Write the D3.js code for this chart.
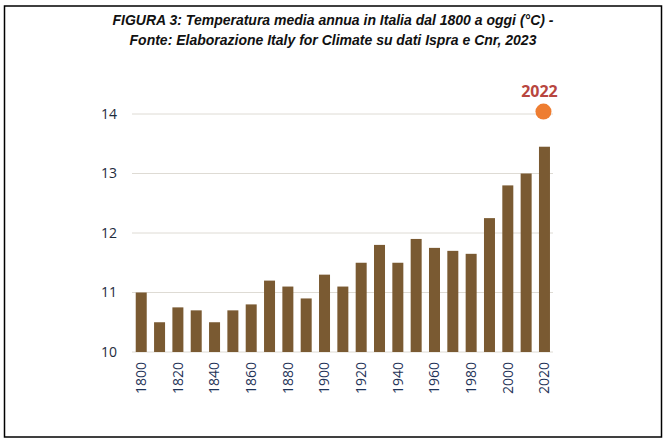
<!DOCTYPE html>
<html>
<head>
<meta charset="utf-8">
<script src="https://cdn.jsdelivr.net/npm/d3@7"></script>
<style>
  body { margin: 0; background: #fff; }
  svg { display: block; }
</style>
</head>
<body>
<div id="chart"></div>
<script>
// data
const years = [1800, 1810, 1820, 1830, 1840, 1850, 1860, 1870, 1880, 1890, 1900, 1910,
  1920, 1930, 1940, 1950, 1960, 1970, 1980, 1990, 2000, 2010, 2020];
const temps = [11.0, 10.5, 10.75, 10.7, 10.5, 10.7, 10.8, 11.2, 11.1, 10.9, 11.3, 11.1,
  11.5, 11.8, 11.5, 11.9, 11.75, 11.7, 11.65, 12.25, 12.8, 13.0, 13.45];
const yTicks = [10, 11, 12, 13, 14];
const highlightLabel = "2022";
const highlightValue = 14.04;
const titleLines = [
  "FIGURA 3: Temperatura media annua in Italia dal 1800 a oggi (°C) -",
  "Fonte: Elaborazione Italy for Climate su dati Ispra e Cnr, 2023"
];

const width = 669;
const height = 443;
const margin = { top: 114, right: 116, bottom: 91, left: 132 };

const svg = d3.select("#chart")
  .append("svg")
  .attr("width", width)
  .attr("height", height);

// outer frame
svg.append("rect")
  .attr("x", 4.5)
  .attr("y", 6)
  .attr("width", 657)
  .attr("height", 431)
  .attr("fill", "none")
  .attr("stroke", "#000")
  .attr("stroke-width", 1.5);

// title
svg.selectAll("text.title")
  .data(titleLines)
  .join("text")
  .attr("class", "title")
  .attr("x", 333)
  .attr("y", (d, i) => 25 + i * 20)
  .attr("text-anchor", "middle")
  .style("font-family", "Liberation Sans, Arial, sans-serif")
  .style("font-weight", "bold")
  .style("font-style", "italic")
  .style("font-size", "14px")
  .attr("fill", "#111")
  .text(d => d);

const x = d3.scaleBand()
  .domain(years)
  .range([128.4, 557.3])
  .padding(0.4);

const y = d3.scaleLinear()
  .domain([10, 14])
  .range([height - margin.bottom, margin.top]);

// gridlines
svg.append("g")
  .selectAll("line")
  .data(yTicks)
  .join("line")
  .attr("x1", margin.left)
  .attr("x2", width - margin.right)
  .attr("y1", d => y(d))
  .attr("y2", d => y(d))
  .attr("stroke", "#dedbd4")
  .attr("stroke-width", 1);

// y labels
svg.append("g")
  .selectAll("text")
  .data(yTicks)
  .join("text")
  .attr("x", 117)
  .attr("y", d => y(d))
  .attr("dy", "0.35em")
  .attr("text-anchor", "end")
  .style("font-family", "Open Sans, sans-serif")
  .style("font-size", "14px")
  .attr("fill", "#1e2c3c")
  .text(d => d);

// bars
svg.append("g")
  .selectAll("rect")
  .data(years)
  .join("rect")
  .attr("x", d => x(d))
  .attr("width", x.bandwidth())
  .attr("y", (d, i) => y(temps[i]))
  .attr("height", (d, i) => y(10) - y(temps[i]))
  .attr("fill", "#7a5a32");

// x labels, every other year, rotated
svg.append("g")
  .selectAll("text")
  .data(years.filter((d, i) => i % 2 === 0))
  .join("text")
  .attr("transform", d => `translate(${x(d) + x.bandwidth() / 2}, 362) rotate(-90)`)
  .attr("dy", "0.35em")
  .attr("text-anchor", "end")
  .style("font-family", "Open Sans, sans-serif")
  .style("font-size", "14px")
  .attr("fill", "#1f3458")
  .text(d => d);

// 2022 point
const lastX = x(years[years.length - 1]) + x.bandwidth() / 2 - 1;
svg.append("circle")
  .attr("cx", lastX)
  .attr("cy", y(highlightValue))
  .attr("r", 8)
  .attr("fill", "#ee7d31");

svg.append("text")
  .attr("x", lastX - 4)
  .attr("y", y(highlightValue) - 15)
  .attr("text-anchor", "middle")
  .style("font-family", "Open Sans, sans-serif")
  .style("font-weight", "bold")
  .style("font-size", "16px")
  .attr("fill", "#b8463f")
  .text(highlightLabel);
</script>
</body>
</html>
